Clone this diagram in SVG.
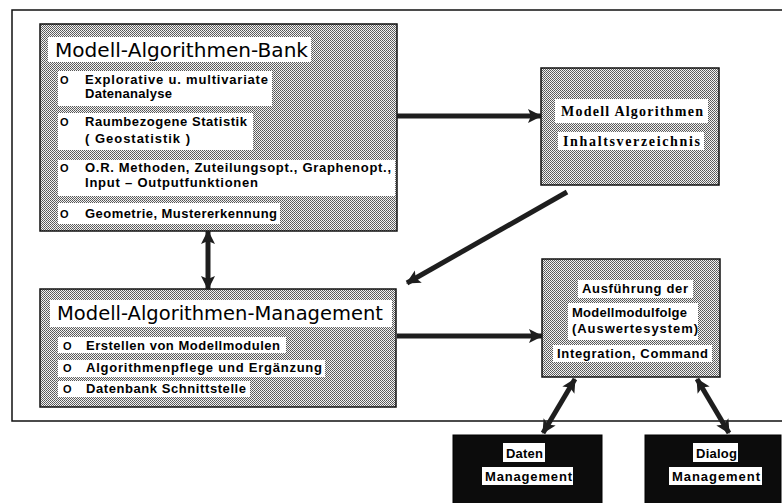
<svg xmlns="http://www.w3.org/2000/svg" width="782" height="503" viewBox="0 0 782 503">
<defs>
<pattern id="stip" width="2" height="2" patternUnits="userSpaceOnUse">
<rect width="2" height="2" fill="#f2f2f2"/>
<rect x="0" y="0" width="1" height="1" fill="#555"/>
<rect x="1" y="1" width="1" height="1" fill="#666"/>
</pattern>
<marker id="ah" markerUnits="userSpaceOnUse" markerWidth="16" markerHeight="16" refX="13" refY="7" orient="auto-start-reverse">
<path d="M0,0 L14,7 L0,14 L3,7 Z" fill="#1e1e1e"/>
</marker>
</defs>
<style>
.box{fill:url(#stip);stroke:#111;stroke-width:1.5}
.blk{fill:#0c0c0c;stroke:#000;stroke-width:1}
.band{fill:#fff}
.ttl{font-family:"DejaVu Sans","Liberation Sans",sans-serif;font-size:19px;fill:#000}
.it{font-family:"Liberation Sans","DejaVu Sans",sans-serif;font-weight:700;font-size:13px;fill:#000}
.bul{font-family:"Liberation Sans","DejaVu Sans",sans-serif;font-weight:700;font-size:11px;fill:#000}
.sr{font-family:"Liberation Serif","DejaVu Serif",serif;font-weight:700;font-size:14px;fill:#000}
.con{stroke:#1e1e1e;stroke-width:5;fill:none}
.frame{stroke:#111;stroke-width:1.5;fill:none}
</style>
<rect width="782" height="503" fill="#fff"/>
<path class="frame" d="M784,10 L12,10 L12,421 L784,421"/>

<g id="bank">
<rect class="box" x="40" y="24" width="357" height="207"/>
<rect class="band" x="48" y="37" width="263" height="25"/>
<text class="ttl" x="55" y="57" textLength="253" lengthAdjust="spacingAndGlyphs">Modell-Algorithmen-Bank</text>
<rect class="band" x="58" y="71" width="214" height="35"/>
<text class="bul" x="60" y="84">O</text>
<text class="it" x="85" y="84" textLength="183">Explorative u. multivariate</text>
<text class="it" x="85" y="98" textLength="87">Datenanalyse</text>
<rect class="band" x="58" y="113" width="195" height="37"/>
<text class="bul" x="60" y="126">O</text>
<text class="it" x="85" y="126" textLength="162">Raumbezogene Statistik</text>
<text class="it" x="85" y="143" textLength="105">( Geostatistik )</text>
<rect class="band" x="58" y="160" width="337" height="36"/>
<text class="bul" x="60" y="172">O</text>
<text class="it" x="85" y="172" textLength="306">O.R. Methoden, Zuteilungsopt., Graphenopt.,</text>
<text class="it" x="85" y="187" textLength="173">Input – Outputfunktionen</text>
<rect class="band" x="58" y="203" width="222" height="21"/>
<text class="bul" x="60" y="218">O</text>
<text class="it" x="85" y="218" textLength="192">Geometrie, Mustererkennung</text>
</g>

<g id="management">
<rect class="box" x="40" y="289" width="356" height="118"/>
<rect class="band" x="50" y="300" width="342" height="27"/>
<text class="ttl" x="57" y="320" textLength="326" lengthAdjust="spacingAndGlyphs">Modell-Algorithmen-Management</text>
<rect class="band" x="58" y="337" width="228" height="16"/>
<text class="bul" x="63" y="350">O</text>
<text class="it" x="86" y="350" textLength="194">Erstellen von Modellmodulen</text>
<rect class="band" x="58" y="360" width="267" height="17"/>
<text class="bul" x="63" y="372">O</text>
<text class="it" x="86" y="372" textLength="236">Algorithmenpflege und Ergänzung</text>
<rect class="band" x="58" y="381" width="192" height="16"/>
<text class="bul" x="63" y="393">O</text>
<text class="it" x="86" y="393" textLength="160">Datenbank Schnittstelle</text>
</g>

<g id="inhalt">
<rect class="box" x="541" y="68" width="178" height="117"/>
<rect class="band" x="555" y="99" width="153" height="24"/>
<text class="sr" x="561" y="116" textLength="142">Modell Algorithmen</text>
<rect class="band" x="558" y="132" width="146" height="18"/>
<text class="sr" x="563" y="146" textLength="137">Inhaltsverzeichnis</text>
</g>

<g id="ausfuehrung">
<rect class="box" x="542" y="259" width="178" height="118"/>
<rect class="band" x="578" y="280" width="115" height="18"/>
<text class="it" x="582" y="293" textLength="106">Ausführung der</text>
<rect class="band" x="568" y="303" width="130" height="37"/>
<text class="it" x="572" y="317" textLength="115">Modellmodulfolge</text>
<text class="it" x="572" y="333" textLength="126">(Auswertesystem)</text>
<rect class="band" x="553" y="345" width="159" height="17"/>
<text class="it" x="557" y="358" textLength="151">Integration, Command</text>
</g>

<g id="daten">
<rect class="blk" x="453" y="435" width="149" height="70"/>
<rect class="band" x="503" y="443" width="42" height="19"/>
<text class="it" x="506" y="458" textLength="37">Daten</text>
<rect class="band" x="482" y="467" width="91" height="18"/>
<text class="it" x="485" y="481" textLength="87">Management</text>
</g>

<g id="dialog">
<rect class="blk" x="645" y="435" width="136" height="70"/>
<rect class="band" x="693" y="443" width="45" height="19"/>
<text class="it" x="696" y="458" textLength="41">Dialog</text>
<rect class="band" x="669" y="467" width="93" height="18"/>
<text class="it" x="672" y="481" textLength="88">Management</text>
</g>

<g id="connectors">
<line class="con" x1="397" y1="116" x2="541" y2="116" marker-end="url(#ah)"/>
<line class="con" x1="397" y1="336" x2="542" y2="336" marker-end="url(#ah)"/>
<line class="con" x1="208" y1="231" x2="208" y2="289" marker-start="url(#ah)" marker-end="url(#ah)"/>
<line class="con" x1="567" y1="192" x2="407" y2="283" marker-end="url(#ah)"/>
<line class="con" x1="575" y1="379" x2="543" y2="433" marker-start="url(#ah)" marker-end="url(#ah)"/>
<line class="con" x1="697" y1="379" x2="729" y2="433" marker-start="url(#ah)" marker-end="url(#ah)"/>
</g>
</svg>
